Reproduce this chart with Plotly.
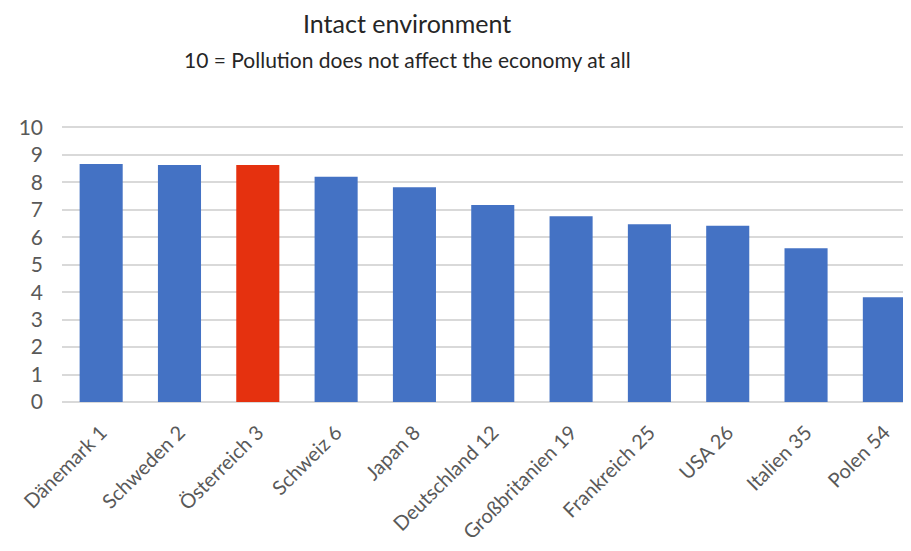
import plotly.graph_objects as go

categories = ["Dänemark 1", "Schweden 2", "Österreich 3", "Schweiz 6", "Japan 8",
              "Deutschland 12", "Großbritanien 19", "Frankreich 25", "USA 26",
              "Italien 35", "Polen 54"]
values = [8.67, 8.63, 8.63, 8.20, 7.82, 7.17, 6.76, 6.47, 6.42, 5.60, 3.81]
highlight = "Österreich 3"

BLUE = "#4472C4"
RED = "#E5310F"
colors = [RED if c == highlight else BLUE for c in categories]

fig = go.Figure(go.Bar(x=categories, y=values, marker=dict(color=colors, line=dict(width=0)),
                       width=0.55))

# page body has an 8px margin, so the figure is laid out 8px smaller
OFF = 8
W, H = 911 - OFF, 551 - OFF
ml, mr = 62 - OFF, 0
mt = 126 - OFF
mb = H - (402 - OFF)
plot_w = W - ml - mr
plot_h = H - mt - mb

fig.update_layout(
    width=W, height=H,
    margin=dict(l=ml, r=mr, t=mt, b=mb, autoexpand=False),
    plot_bgcolor="white", paper_bgcolor="white",
    showlegend=False,
    font=dict(family="Lato, Open Sans, sans-serif", color="#595959"),
    xaxis=dict(range=[-0.5, 10.34], tickangle=-45, tickfont=dict(size=20, color="#595959"),
               showgrid=False, showline=False, ticks="", ticklabelstandoff=14),
    yaxis=dict(range=[0, 10.05], dtick=1, tick0=0, showgrid=True, gridcolor="#D9D9D9",
               gridwidth=2, zeroline=True, zerolinecolor="#D9D9D9", zerolinewidth=2,
               tickfont=dict(size=21, color="#595959"), ticklabelstandoff=18,
               showline=False, ticks=""),
    annotations=[
        dict(text="Intact environment", xref="paper", yref="paper",
             x=(407 - OFF - ml) / plot_w, y=1 + (mt - (23 - OFF)) / plot_h,
             xanchor="center", yanchor="middle", showarrow=False,
             font=dict(size=25, color="#262626", family="Lato, Open Sans, sans-serif")),
        dict(text="10 = Pollution does not affect the economy at all", xref="paper", yref="paper",
             x=(407 - OFF - ml) / plot_w, y=1 + (mt - (59 - OFF)) / plot_h,
             xanchor="center", yanchor="middle", showarrow=False,
             font=dict(size=21, color="#262626", family="Lato, Open Sans, sans-serif")),
    ],
)

fig.write_html("out.html")
